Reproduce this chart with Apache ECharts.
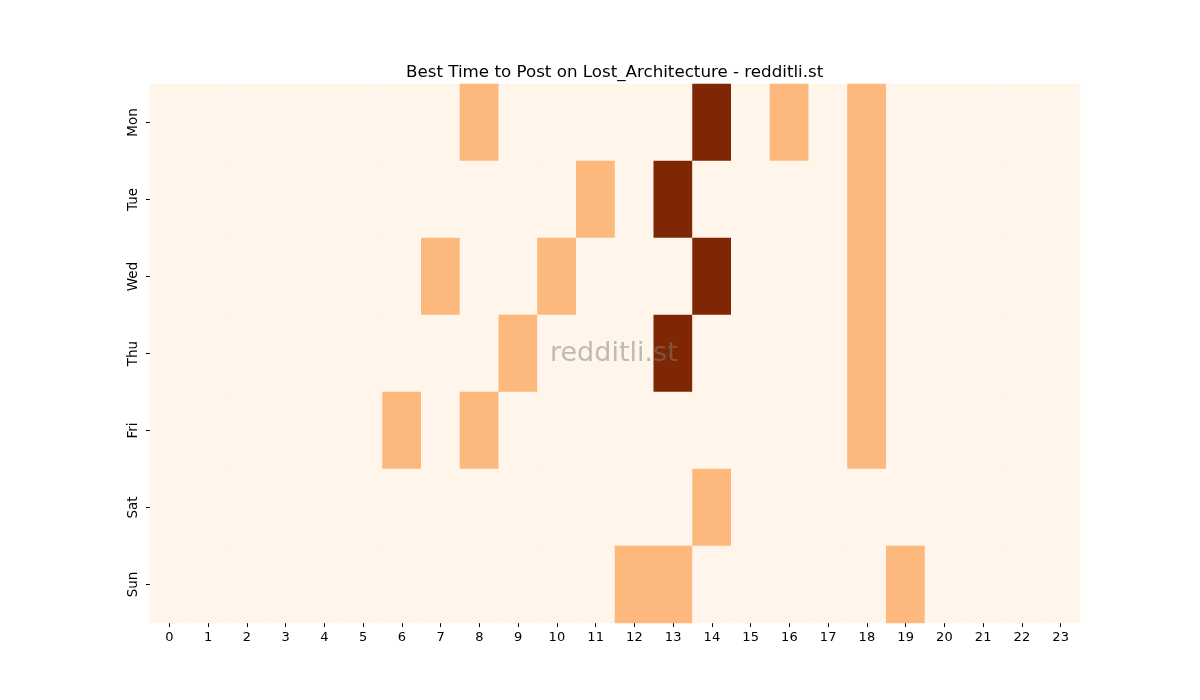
<!DOCTYPE html>
<html>
<head>
<meta charset="utf-8">
<script src="https://cdn.jsdelivr.net/npm/echarts@6/dist/echarts.min.js"></script>
<style>
html,body{margin:0;padding:0;background:#fff;}
#chart{width:1200px;height:700px;}
</style>
</head>
<body>
<div id="chart"></div>
<script>
// hours and days
var hours = ['0','1','2','3','4','5','6','7','8','9','10','11','12','13','14','15','16','17','18','19','20','21','22','23'];
var days = ['Mon','Tue','Wed','Thu','Fri','Sat','Sun'];
// posting score per day, one value per hour
var mon = [0,0,0,0,0,0,0,0,1,0,0,0,0,0,2,0,1,0,1,0,0,0,0,0];
var tue = [0,0,0,0,0,0,0,0,0,0,0,1,0,2,0,0,0,0,1,0,0,0,0,0];
var wed = [0,0,0,0,0,0,0,1,0,0,1,0,0,0,2,0,0,0,1,0,0,0,0,0];
var thu = [0,0,0,0,0,0,0,0,0,1,0,0,0,2,0,0,0,0,1,0,0,0,0,0];
var fri = [0,0,0,0,0,0,1,0,1,0,0,0,0,0,0,0,0,0,1,0,0,0,0,0];
var sat = [0,0,0,0,0,0,0,0,0,0,0,0,0,0,1,0,0,0,0,0,0,0,0,0];
var sun = [0,0,0,0,0,0,0,0,0,0,0,0,1,1,0,0,0,0,0,1,0,0,0,0];

window.onload = function(){
    var rows = [mon, tue, wed, thu, fri, sat, sun];
    var data = [];
    for (var d = 0; d < rows.length; d++) {
        for (var h = 0; h < rows[d].length; h++) {
            data.push([h, d, rows[d][h]]);
        }
    }
    var font = 'DejaVu Sans';
    var chart = echarts.init(document.getElementById('chart'));
    chart.setOption({
        animation: false,
        title: {
            text: 'Best Time to Post on Lost_Architecture - redditli.st',
            left: 401, top: 59,
            textStyle: {fontFamily: font, fontSize: 16.7, fontWeight: 'normal', color: '#000'}
        },
        grid: {left: 150, top: 84, width: 930, height: 539},
        xAxis: {
            type: 'category', data: hours,
            axisLine: {show: false},
            axisTick: {show: true, alignWithLabel: true, length: 4, lineStyle: {color: '#000'}},
            axisLabel: {fontFamily: font, fontSize: 13, color: '#000', margin: 8, interval: 0},
            splitArea: {show: false}
        },
        yAxis: {
            type: 'category', data: days, inverse: true,
            axisLine: {show: false},
            axisTick: {show: true, alignWithLabel: true, length: 4, lineStyle: {color: '#000'}},
            axisLabel: {fontFamily: font, fontSize: 13.5, color: '#000', rotate: 90, margin: 10, interval: 0}
        },
        visualMap: {
            show: false, type: 'piecewise', dimension: 2,
            pieces: [
                {value: 0, color: '#fff5eb'},
                {value: 1, color: '#fdb97d'},
                {value: 2, color: '#7f2704'}
            ]
        },
        series: [{
            type: 'heatmap',
            data: data,
            itemStyle: {borderWidth: 0},
            emphasis: {disabled: true}
        }],
        graphic: [{
            type: 'text', left: 550, top: 340, z: 100,
            style: {text: 'redditli.st', fontFamily: font, fontSize: 27, fill: 'rgba(128,128,128,0.5)'}
        }]
    });
};
</script>
</body>
</html>
